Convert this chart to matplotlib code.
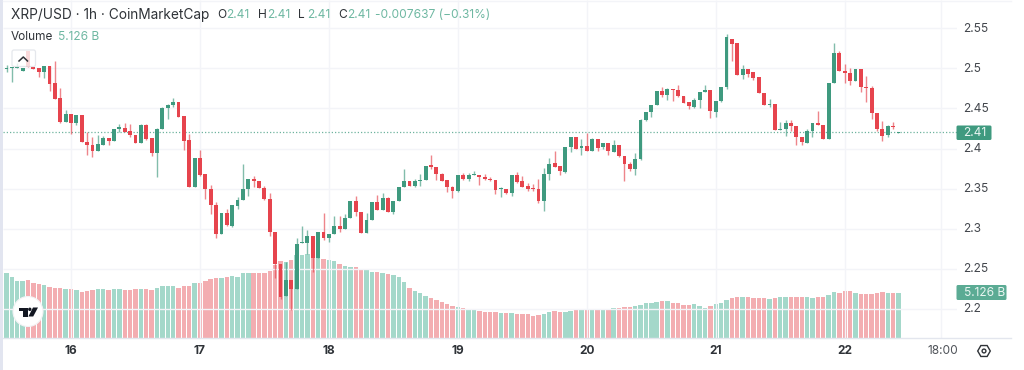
"""XRP/USD hourly candles with volume, in the TradingView widget style."""

import numpy as np
import matplotlib
matplotlib.use("Agg")
import matplotlib.pyplot as plt
from matplotlib.patches import Circle, FancyBboxPatch, Polygon, Rectangle, RegularPolygon

plt.rcParams['font.family'] = ['Inter', 'DejaVu Sans']

# hours counted from the start of the 16th
first_hour = -13

opens = [2.5, 2.4996, 2.5, 2.5008, 2.4971, 2.5217, 2.5013, 2.5008, 2.4958, 2.5029, 2.4817, 2.4629, 2.4333,
         2.4433, 2.4321, 2.4413, 2.4083, 2.4046, 2.3971, 2.405, 2.4125, 2.4092, 2.4242, 2.4258, 2.4217, 2.4167, 2.4071, 2.4292,
         2.4125, 2.395, 2.4238, 2.4504, 2.4542, 2.4575, 2.44, 2.41, 2.3517, 2.3883, 2.3679, 2.35, 2.33, 2.2933, 2.32,
         2.3038, 2.3288, 2.3358, 2.3488, 2.3625, 2.36, 2.3504, 2.3375, 2.2963, 2.2563, 2.2154, 2.2363, 2.2242,
         2.2821, 2.2821, 2.2904, 2.2638, 2.2954, 2.2879, 2.2929, 2.3038, 2.3, 2.3133, 2.3346, 2.3208, 2.2946, 2.3108,
         2.3338, 2.3233, 2.3388, 2.3213, 2.3346, 2.3525, 2.3588, 2.3529, 2.3588, 2.3604, 2.3792, 2.3775, 2.3683, 2.3604,
         2.3517, 2.3463, 2.3671, 2.3617, 2.3667, 2.3671, 2.365, 2.3621, 2.3608, 2.3488, 2.3492, 2.3442, 2.3663, 2.3588,
         2.3533, 2.35, 2.3492, 2.3346, 2.3683, 2.3813, 2.3779, 2.3708, 2.4021, 2.4138, 2.4008, 2.4029, 2.3967, 2.4117,
         2.4013, 2.4071, 2.3958, 2.4042, 2.3904, 2.3808, 2.3742, 2.3871, 2.4354, 2.4458, 2.4546, 2.4713, 2.4667, 2.4738,
         2.4725, 2.4658, 2.4575, 2.4521, 2.4604, 2.4708, 2.4729, 2.4458, 2.4596, 2.4763, 2.5367, 2.5317, 2.4917, 2.4988,
         2.495, 2.4888, 2.4688, 2.4542, 2.455, 2.4229, 2.4242, 2.4317, 2.4279, 2.4142, 2.4075, 2.4213, 2.4321, 2.4296,
         2.4117, 2.4813, 2.5196, 2.4967, 2.4942, 2.4838, 2.4988, 2.4767, 2.4754, 2.4446, 2.4242, 2.4163, 2.4283, 2.4197]
highs = [2.5004, 2.5042, 2.5017, 2.5067, 2.5008, 2.5217, 2.5013, 2.5008, 2.5029, 2.5029, 2.5092, 2.4758, 2.4475,
         2.4433, 2.4413, 2.4417, 2.42, 2.4146, 2.4167, 2.4158, 2.4125, 2.4242, 2.43, 2.4317, 2.43, 2.4167, 2.43, 2.43,
         2.4125, 2.4258, 2.4517, 2.4558, 2.4625, 2.4575, 2.44, 2.4175, 2.3883, 2.3979, 2.3679, 2.3542, 2.3333, 2.32, 2.3242,
         2.3292, 2.3396, 2.3804, 2.3625, 2.3654, 2.36, 2.3533, 2.3442, 2.2963, 2.2563, 2.2583, 2.2363, 2.2888,
         2.3029, 2.2988, 2.2904, 2.2958, 2.32, 2.2929, 2.3163, 2.3154, 2.3188, 2.3346, 2.3404, 2.3208, 2.3196, 2.3338,
         2.3421, 2.3446, 2.3396, 2.3346, 2.3525, 2.375, 2.3588, 2.3625, 2.3679, 2.3783, 2.3917, 2.3775, 2.3696, 2.3604,
         2.3533, 2.3671, 2.37, 2.3688, 2.3721, 2.3671, 2.3679, 2.3638, 2.3608, 2.3513, 2.35, 2.3663, 2.3704, 2.3654,
         2.3571, 2.3554, 2.3613, 2.3754, 2.3883, 2.3963, 2.3779, 2.4021, 2.4138, 2.4138, 2.4113, 2.4188, 2.4125, 2.4117,
         2.4071, 2.4071, 2.4104, 2.4042, 2.3904, 2.3833, 2.3938, 2.4371, 2.4458, 2.4546, 2.4717, 2.4767, 2.475, 2.4738,
         2.4788, 2.4658, 2.4575, 2.4625, 2.4708, 2.4788, 2.4729, 2.4596, 2.4767, 2.5429, 2.5367, 2.5317, 2.5038, 2.4988,
         2.495, 2.4888, 2.4688, 2.4621, 2.455, 2.4329, 2.4354, 2.4354, 2.4279, 2.4142, 2.4242, 2.4321, 2.4467, 2.4296,
         2.4813, 2.5313, 2.5221, 2.5054, 2.5, 2.4996, 2.4988, 2.4904, 2.4779, 2.4446, 2.4346, 2.4292, 2.4325, 2.4203]
lows = [2.5, 2.495, 2.4833, 2.5, 2.4967, 2.5017, 2.4992, 2.4896, 2.4883, 2.4721, 2.4613, 2.4317, 2.4333,
        2.4175, 2.4292, 2.4083, 2.3917, 2.39, 2.3967, 2.4042, 2.4042, 2.4092, 2.4208, 2.42, 2.4146, 2.4063, 2.4071, 2.4108,
        2.3908, 2.3642, 2.4238, 2.4367, 2.4517, 2.4392, 2.3979, 2.3517, 2.3517, 2.3658, 2.3375, 2.3183, 2.2883, 2.2933, 2.3033,
        2.3017, 2.3242, 2.3354, 2.3408, 2.3517, 2.3508, 2.3354, 2.2908, 2.2383, 2.2117, 2.2154, 2.1979, 2.2242,
        2.2821, 2.2688, 2.2458, 2.2638, 2.2854, 2.2829, 2.2929, 2.2954, 2.2996, 2.3133, 2.3163, 2.2946, 2.2946, 2.3108,
        2.3229, 2.3229, 2.3213, 2.3188, 2.3346, 2.3521, 2.3529, 2.3513, 2.3533, 2.3604, 2.375, 2.3604, 2.3588, 2.3458,
        2.3379, 2.3454, 2.3604, 2.3596, 2.3663, 2.3542, 2.3608, 2.36, 2.3433, 2.34, 2.3433, 2.3408, 2.3575, 2.3517,
        2.3471, 2.3463, 2.3317, 2.3217, 2.3604, 2.3763, 2.3667, 2.37, 2.3954, 2.3992, 2.3917, 2.3967, 2.3967, 2.3971,
        2.3996, 2.3917, 2.3954, 2.3896, 2.3596, 2.3721, 2.3671, 2.3854, 2.4346, 2.4396, 2.4542, 2.4646, 2.4608, 2.4592,
        2.4646, 2.4563, 2.4488, 2.4508, 2.4504, 2.4704, 2.4375, 2.4396, 2.4583, 2.4738, 2.5096, 2.4917, 2.4867, 2.4896,
        2.4854, 2.4688, 2.4546, 2.4517, 2.4229, 2.4229, 2.415, 2.4213, 2.4042, 2.4046, 2.4075, 2.4146, 2.4292, 2.4117,
        2.4117, 2.4813, 2.4963, 2.4821, 2.4788, 2.4838, 2.4704, 2.4583, 2.4363, 2.4213, 2.4096, 2.4146, 2.4242, 2.4197]
closes = [2.5004, 2.5004, 2.5017, 2.5017, 2.5008, 2.5017, 2.4996, 2.4958, 2.5029, 2.4808, 2.4621, 2.4333, 2.4433,
          2.4321, 2.4413, 2.4083, 2.4046, 2.3967, 2.4054, 2.4125, 2.4092, 2.4242, 2.4263, 2.4208, 2.4163, 2.4063, 2.4292, 2.4117,
          2.395, 2.4242, 2.4508, 2.4546, 2.4575, 2.4392, 2.4092, 2.3517, 2.3883, 2.3675, 2.3496, 2.33, 2.2933, 2.32, 2.3042,
          2.3292, 2.3363, 2.3488, 2.3625, 2.3596, 2.3508, 2.3367, 2.2958, 2.2563, 2.215, 2.2363, 2.2242, 2.2813,
          2.2829, 2.2904, 2.2638, 2.2958, 2.2879, 2.2929, 2.3038, 2.3, 2.3129, 2.3346, 2.3208, 2.2946, 2.3108, 2.3338,
          2.3233, 2.3383, 2.3213, 2.3346, 2.3525, 2.3592, 2.3529, 2.3588, 2.3604, 2.3783, 2.3775, 2.3683, 2.36, 2.3513,
          2.3463, 2.3671, 2.3617, 2.3667, 2.3679, 2.3646, 2.3617, 2.3608, 2.3479, 2.3504, 2.3442, 2.3663, 2.3583, 2.3525,
          2.3488, 2.3492, 2.3342, 2.3683, 2.3808, 2.3771, 2.3713, 2.4021, 2.4138, 2.4, 2.4029, 2.3967, 2.4117, 2.4008,
          2.4071, 2.3963, 2.4042, 2.3904, 2.3808, 2.3742, 2.3875, 2.4358, 2.4458, 2.4546, 2.4717, 2.4663, 2.4738, 2.4729,
          2.4658, 2.4571, 2.4525, 2.4604, 2.4708, 2.4729, 2.4467, 2.4596, 2.4767, 2.5388, 2.5308, 2.4917, 2.4988, 2.4925,
          2.4883, 2.4688, 2.4546, 2.455, 2.4229, 2.4242, 2.4317, 2.4279, 2.4142, 2.4079, 2.4213, 2.4321, 2.4296, 2.4117,
          2.4813, 2.5196, 2.4967, 2.4942, 2.4838, 2.4988, 2.4763, 2.475, 2.4446, 2.4242, 2.4158, 2.4283, 2.4267, 2.42]
volumes = [7.59, 7.37, 6.91, 6.53, 6.53, 6.57, 6.27, 6.19, 6.08, 5.81, 5.70, 5.73, 5.62,
           5.58, 5.43, 5.28, 5.35, 5.51, 5.54, 5.54, 5.51, 5.54, 5.54, 5.51, 5.51, 5.54, 5.54, 5.62,
           5.43, 5.73, 5.89, 5.89, 5.89, 5.70, 5.92, 5.92, 6.27, 6.27, 6.45, 6.72, 6.87, 6.83, 6.91,
           7.02, 6.95, 7.37, 7.37, 7.44, 7.44, 7.37, 7.63, 8.35, 8.81, 8.66, 8.88, 9.42,
           9.42, 9.61, 9.61, 9.11, 9.04, 8.85, 8.77, 8.43, 8.16, 8.09, 8.05, 7.86, 7.82, 7.48,
           7.48, 7.37, 7.33, 7.21, 6.95, 6.34, 5.70, 5.39, 5.13, 4.75, 4.59, 4.29, 4.06, 3.83,
           3.61, 3.53, 3.38, 3.27, 3.23, 3.11, 3.00, 2.96, 2.96, 2.89, 2.81, 2.81, 2.73, 2.73,
           2.70, 2.51, 2.58, 2.77, 2.92, 3.04, 2.96, 3.00, 3.11, 3.15, 3.15, 3.27, 3.27, 3.30,
           3.30, 3.34, 3.42, 3.42, 3.49, 3.53, 3.65, 3.80, 3.95, 3.99, 4.10, 4.18, 4.18, 3.99,
           3.95, 3.80, 3.80, 3.83, 3.68, 3.46, 3.65, 3.87, 4.02, 4.37, 4.59, 4.67, 4.67, 4.67,
           4.56, 4.56, 4.56, 4.48, 4.59, 4.67, 4.67, 4.67, 4.67, 4.67, 4.67, 4.59, 4.67, 4.71,
           4.86, 5.20, 5.16, 5.39, 5.39, 5.13, 4.97, 5.01, 5.05, 5.16, 5.20, 5.16, 5.13, 5.126]

price_ticks = [2.55, 2.5, 2.45, 2.4, 2.35, 2.3, 2.25, 2.2]
price_labels = ['2.55', '2.5', '2.45', '2.4', '2.35', '2.3', '2.25', '2.2']
day_hours = [0, 24, 48, 72, 96, 120, 144]
day_labels = ['16', '17', '18', '19', '20', '21', '22']
extra_hour = 162
last_price = 2.42

UP, DOWN = '#3f9a7f', '#e6444d'
UP_VOL, DOWN_VOL = '#a4d8ca', '#f3adb1'
GRID = '#f3f4f8'
LINE = '#e3e6ee'
DARK = '#2f3338'
GREEN_TEXT = '#6fb8a2'

W, H = 1024, 370
PANE_LEFT, PANE_RIGHT, PANE_BOTTOM = 2.7, 956.5, 338
X_MIN, X_MAX = -12.71, 164.8
Y_MIN, Y_MAX = 2.1633, 2.5855


def main():
    o, h, l, c = map(np.array, (opens, highs, lows, closes))
    vol = np.array(volumes)
    x = first_hour + np.arange(len(o))
    up = c >= o

    fig = plt.figure(figsize=(W / 100, H / 100), dpi=100, facecolor='white')
    rect = [PANE_LEFT / W, 1 - PANE_BOTTOM / H, (PANE_RIGHT - PANE_LEFT) / W, PANE_BOTTOM / H]

    # volume pane shares the pixels with the price pane, behind it
    vol_ax = fig.add_axes(rect, zorder=1)
    vol_ax.set_xlim(X_MIN, X_MAX)
    vol_ax.set_ylim(0, 38.5)
    vol_ax.axis('off')

    ax = fig.add_axes(rect, zorder=2, sharex=vol_ax)
    ax.patch.set_alpha(0)
    ax.set_ylim(Y_MIN, Y_MAX)
    ax.axis('off')

    vol_ax.bar(x, vol, width=0.82, color=[UP_VOL if u else DOWN_VOL for u in up], lw=0, zorder=3)

    ax.hlines(price_ticks, X_MIN, X_MAX, color=GRID, lw=1, zorder=0)
    ax.vlines(day_hours + [extra_hour], Y_MIN, Y_MAX, color=GRID, lw=1, zorder=0)
    ax.axhline(last_price, color=UP, lw=0.9, ls=(0, (1, 1.6)), alpha=0.75, zorder=1)

    ax.vlines(x, l, h, color=[UP if u else DOWN for u in up], lw=1.0, alpha=0.65, zorder=4)
    bottoms = np.minimum(o, c)
    heights = np.maximum(np.abs(c - o), 0.0012)
    ax.bar(x, heights, bottom=bottoms, width=0.72, color=[UP if u else DOWN for u in up], lw=0, zorder=5)

    # everything around the panes is laid out in screen pixels
    over = fig.add_axes([0, 0, 1, 1], zorder=3)
    over.set_xlim(0, W)
    over.set_ylim(H, 0)
    over.axis('off')
    over.patch.set_alpha(0)

    over.add_patch(Rectangle((0, 0), 2.6, H, color='#e2e5f0', lw=0))
    over.plot([PANE_LEFT, 1011], [PANE_BOTTOM, PANE_BOTTOM], color=LINE, lw=1)
    over.plot([PANE_LEFT, 1011], [0.5, 0.5], color=GRID, lw=1)

    # header
    over.text(11, 15, 'XRP/USD · 1h · CoinMarketCap', fontsize=9.85, color=DARK, va='center')
    for xpos, name in [(217, 'O'), (258, 'H'), (298, 'L'), (338, 'C')]:
        over.text(xpos, 15.3, name, fontsize=8.6, color=DARK, va='center')
        over.text(xpos + 9.5, 15.3, '2.41', fontsize=8.6, color=GREEN_TEXT, va='center')
    over.text(375, 15.3, '-0.007637 (−0.31%)', fontsize=8.6, color=GREEN_TEXT, va='center')
    over.text(11, 37, 'Volume', fontsize=8.5, color=DARK, va='center')
    over.text(58, 37, '5.126 B', fontsize=8.6, color=GREEN_TEXT, va='center')

    # collapse button, sits over the first candles
    over.add_patch(FancyBboxPatch((12, 50), 23.5, 16.5, boxstyle='round,pad=0,rounding_size=2',
                                  fc='white', ec='#dfe2e8', lw=0.9, alpha=0.8))
    over.plot([19, 23.3, 27.5], [61, 57, 61], color=DARK, lw=1.1)

    # price scale
    for t, lab in zip(price_ticks, price_labels):
        ypx = PANE_BOTTOM * (Y_MAX - t) / (Y_MAX - Y_MIN)
        over.text(963.5, ypx + 0.3, lab, fontsize=8.6, color='#43474d', va='center')

    # time scale
    for hour, lab in zip(day_hours, day_labels):
        xpx = PANE_LEFT + (hour - X_MIN) * (PANE_RIGHT - PANE_LEFT) / (X_MAX - X_MIN)
        over.text(xpx, 351, lab, fontsize=8.6, color=DARK, ha='center', va='center', fontweight='bold')
    xpx = PANE_LEFT + (extra_hour - X_MIN) * (PANE_RIGHT - PANE_LEFT) / (X_MAX - X_MIN)
    stub = over.text(xpx + 1, 351, '18:00', fontsize=8.6, color='#50545a', ha='center', va='center')
    stub.set_clip_path(Rectangle((920, 340), 35.5, 24, transform=over.transData))

    # last value tags
    over.add_patch(FancyBboxPatch((956.5, 125.5), 35, 14.5, boxstyle='round,pad=0,rounding_size=1.5',
                                  fc=UP, ec='none'))
    over.text(963.5, 132.8, '2.41', fontsize=8.6, color='#e9f5f1', va='center')
    over.add_patch(FancyBboxPatch((956.5, 285), 50, 15, boxstyle='round,pad=0,rounding_size=1.5',
                                  fc='#5bab94', ec='none'))
    over.text(963.5, 292.6, '5.126 B', fontsize=8.6, color='#e9f5f1', va='center')

    # settings gear
    over.add_patch(RegularPolygon((984, 351), 6, radius=6.3, orientation=np.pi / 2, fc='none', ec=DARK, lw=1))
    over.add_patch(Circle((984, 351), 1.9, fc='none', ec=DARK, lw=1))

    # TradingView badge
    over.add_patch(Circle((28, 311.5), 15, fc='white', ec='#f2f2f4', lw=0.8))
    over.add_patch(Polygon([(18.5, 307.5), (27.5, 307.5), (27.5, 316.5), (23, 316.5), (23, 311), (18.5, 311)],
                           fc='#131722', ec='none'))
    over.add_patch(Circle((29.8, 309.3), 1.7, fc='#131722', ec='none'))
    over.add_patch(Polygon([(33, 307.5), (38, 307.5), (33.2, 316.5), (28.4, 316.5)], fc='#131722', ec='none'))

    fig.savefig('out.png', dpi=100)


if __name__ == "__main__":
    main()
